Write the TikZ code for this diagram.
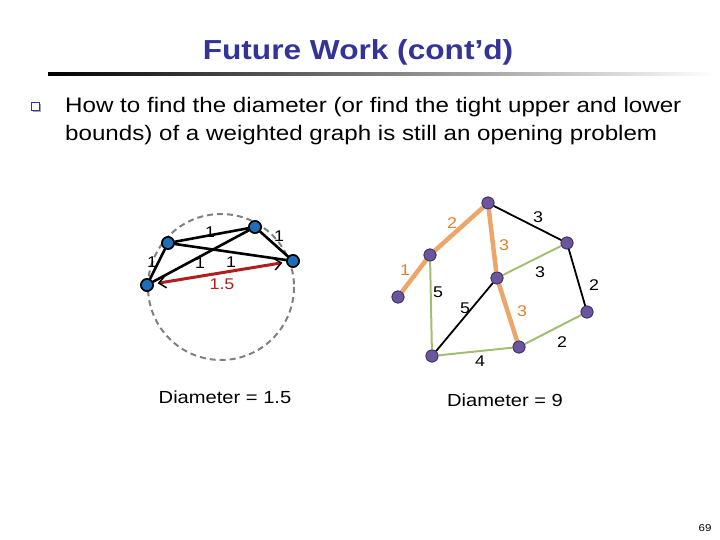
\documentclass[tikz,border=0pt]{standalone}
\usepackage{fontspec}
\setmainfont{Liberation Sans}[FakeStretch=1.15]
\usetikzlibrary{arrows.meta}
\definecolor{titleblue}{HTML}{333399}
\definecolor{nodeblue}{HTML}{1F6FB8}
\definecolor{nodepurple}{HTML}{6B559E}
\definecolor{edgeorange}{HTML}{EDA66A}
\definecolor{laborange}{HTML}{E0802A}
\definecolor{edgegreen}{HTML}{A3BD72}
\definecolor{darkred}{HTML}{B01E1E}
\tikzset{
  bnode/.style={circle,fill=nodeblue,draw=black,line width=1.6pt,minimum size=12pt,inner sep=0pt},
  pnode/.style={circle,fill=nodepurple,draw=nodepurple!60!black,line width=0.8pt,minimum size=12pt,inner sep=0pt},
  bedge/.style={draw=black,line width=2.6pt},
  oedge/.style={draw=edgeorange,line width=4.5pt},
  gedge/.style={draw=edgegreen,line width=2pt},
  kedge/.style={draw=black,line width=1.8pt},
  lab/.style={font=\fontsize{15.5}{17}\selectfont,inner sep=0pt},
  olab/.style={lab,text=laborange},
}
\begin{document}
\begin{tikzpicture}[x=1pt,y=-1pt]
\useasboundingbox (0,0) rectangle (720,540);
% title
\node[text=titleblue,font=\bfseries\fontsize{27.5}{30}\selectfont] (title) at (358,52) {Future Work (cont’d)};
\shade[left color=black,right color=white] (48,72.5) rectangle (715,75.5);
% bullet
\fill[gray!70] (33,104) rectangle (41,112);
\filldraw[fill=white,draw=titleblue,line width=0.8pt] (31,102) rectangle (39,110);
\node[anchor=base west,font=\fontsize{21}{23}\selectfont,inner sep=0pt] (l1) at (65,113) {How to find the diameter (or find the tight upper and lower};
\node[anchor=base west,font=\fontsize{21}{23}\selectfont,inner sep=0pt] (l2) at (65,141) {bounds) of a weighted graph is still an opening problem};
% left graph
\draw[gray,line width=2pt,dash pattern=on 6pt off 4pt] (221,287) circle (73);
\node[bnode] (A) at (147,285) {};
\node[bnode] (B) at (168,243) {};
\node[bnode] (C) at (255,227) {};
\node[bnode] (D) at (293,261) {};
\draw[bedge] (A) -- (B);
\draw[bedge] (B) -- (C);
\draw[bedge] (C) -- (D);
\draw[bedge] (B) -- (D);
\draw[bedge] (A) -- (C);
\draw[draw=darkred,line width=3pt,{Straight Barb[black,length=7pt,width=12pt,line width=1.5pt]}-{Straight Barb[black,length=7pt,width=12pt,line width=1.5pt]},shorten <=4pt,shorten >=4pt] (A) -- (D);
\node[bnode] at (A) {};
\node[bnode] at (B) {};
\node[bnode] at (C) {};
\node[bnode] at (D) {};
\node[lab] (lab1) at (210,232) {1};
\node[lab] (lab2) at (279,236) {1};
\node[lab] (lab3) at (152,262) {1};
\node[lab] (lab4) at (200,263) {1};
\node[lab] (lab5) at (231,262) {1};
\node[lab,text=darkred] (lab6) at (222,284) {1.5};
\node[font=\fontsize{17.5}{19}\selectfont] (d1) at (225,397) {Diameter = 1.5};
% right graph
\node[pnode] (P1) at (398,297) {};
\node[pnode] (P2) at (430,255) {};
\node[pnode] (P3) at (488,203) {};
\node[pnode] (P4) at (567,243) {};
\node[pnode] (P5) at (497,278) {};
\node[pnode] (P6) at (587,312) {};
\node[pnode] (P7) at (519,347) {};
\node[pnode] (P8) at (432,356) {};
\draw[gedge] (P4) -- (P5);
\draw[gedge] (P6) -- (P7);
\draw[gedge] (P7) -- (P8);
\draw[gedge] (P2) -- (P8);
\draw[kedge] (P3) -- (P4);
\draw[kedge] (P4) -- (P6);
\draw[kedge] (P5) -- (P8);
\draw[oedge] (P1) -- (P2);
\draw[oedge] (P2) -- (P3);
\draw[oedge] (P3) -- (P5);
\draw[oedge] (P5) -- (P7);
\foreach \n in {P1,P2,P3,P4,P5,P6,P7,P8} \node[pnode] at (\n) {};
\node[olab] (r1) at (405,270) {1};
\node[olab] (r2) at (452,223) {2};
\node[olab] (r3) at (504,245) {3};
\node[olab] (r4) at (522,311) {3};
\node[lab] (r5) at (538,217) {3};
\node[lab] (r6) at (540,272) {3};
\node[lab] (r7) at (594,285) {2};
\node[lab] (r8) at (562,342) {2};
\node[lab] (r9) at (480,361) {4};
\node[lab] (r10) at (438,292) {5};
\node[lab] (r11) at (465,308) {5};
\node[font=\fontsize{17.5}{19}\selectfont] (d2) at (505,400) {Diameter = 9};
\node[font=\fontsize{10}{12}\selectfont] (pg) at (705,528) {69};
\end{tikzpicture}
\end{document}
